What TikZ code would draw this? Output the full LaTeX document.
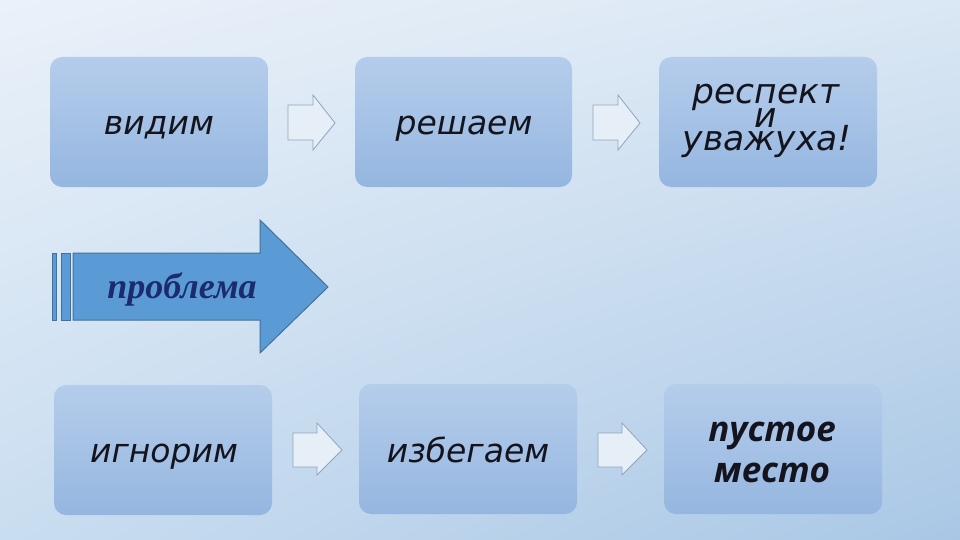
\documentclass[tikz,border=0pt]{standalone}
\usepackage{fontspec}
\setmainfont{DejaVu Sans}
\newfontfamily\serifbi{Liberation Serif}
\newfontfamily\osans{Open Sans}
\usetikzlibrary{shadings}
\definecolor{bgtl}{HTML}{EAF1F9}
\definecolor{bgtr}{HTML}{DAE7F4}
\definecolor{bgbl}{HTML}{C9DDF0}
\definecolor{bgbr}{HTML}{A9C7E5}
\definecolor{boxtop}{HTML}{B5CDEB}
\definecolor{boxbot}{HTML}{95B6E0}
\definecolor{arrfill}{HTML}{5B9BD5}
\definecolor{arrline}{HTML}{41719C}
\definecolor{navy}{HTML}{1C2A6E}
\definecolor{txt}{HTML}{14141E}
\definecolor{sarline}{HTML}{8FA5BA}
\definecolor{sarfill}{HTML}{E6EEF7}
\tikzset{
  stepbox/.style={rounded corners=12pt, top color=boxtop, bottom color=boxbot, draw=none},
  boxtext/.style={font=\fontsize{33}{33}\selectfont\itshape, text=txt, anchor=base, inner sep=0pt},
  smallarr/.style={draw=sarline, line width=0.8pt, fill=sarfill},
  bigarr/.style={draw=arrline, line width=1pt, fill=arrfill},
}
\begin{document}
\begin{tikzpicture}[x=1pt,y=-1pt]
\useasboundingbox (0,0) rectangle (960,540);
\shade[upper left=bgtl, upper right=bgtr, lower left=bgbl, lower right=bgbr] (0,0) rectangle (960,540);
% boxes
\shade[stepbox] (50,57) rectangle (268,187);
\shade[stepbox] (355,57) rectangle (572,187);
\shade[stepbox] (659,57) rectangle (877,187);
\shade[stepbox] (54,385) rectangle (272,515);
\shade[stepbox] (359,384) rectangle (577,514);
\shade[stepbox] (664,384) rectangle (882,514);
% texts
\node[boxtext] (vidim) at (159,135) {видим};
\node[boxtext] (reshaem) at (464,135) {решаем};
\node[boxtext, font=\fontsize{34.5}{34.5}\selectfont\itshape] (respekt) at (766,104) {респект};
\node[boxtext, font=\fontsize{34.5}{34.5}\selectfont\itshape] (i) at (766,128) {и};
\node[boxtext, font=\fontsize{34.5}{34.5}\selectfont\itshape] (uvazh) at (767,151) {уважуха!};
\node[boxtext] (ignorim) at (164,462) {игнорим};
\node[boxtext] (izbegaem) at (468,462) {избегаем};
\node[boxtext, font=\osans\fontsize{35}{35}\selectfont\bfseries\itshape] (pustoe) at (772,441) {пустое};
\node[boxtext, font=\osans\fontsize{35}{35}\selectfont\bfseries\itshape] (mesto) at (772,482) {место};
% small arrows
\foreach \dx in {288, 593}{
  \draw[smallarr] (\dx,105) -- (\dx+25,105) -- (\dx+25,95) -- (\dx+47,123) -- (\dx+25,150) -- (\dx+25,140) -- (\dx,140) -- cycle;
}
\foreach \dx in {293, 598}{
  \draw[smallarr] (\dx,433) -- (\dx+24,433) -- (\dx+24,423) -- (\dx+49,450) -- (\dx+24,475) -- (\dx+24,467) -- (\dx,467) -- cycle;
}
% big arrow
\draw[bigarr] (52,253) rectangle (56,320);
\draw[bigarr] (61,253) rectangle (70,320);
\draw[bigarr] (73,253) -- (260,253) -- (260,220) -- (328,287) -- (260,353) -- (260,320) -- (73,320) -- cycle;
\node[font=\serifbi\fontsize{36}{36}\selectfont\bfseries\itshape, text=navy, anchor=base, inner sep=0pt] (problema) at (182,298) {проблема};
\end{tikzpicture}
\end{document}
